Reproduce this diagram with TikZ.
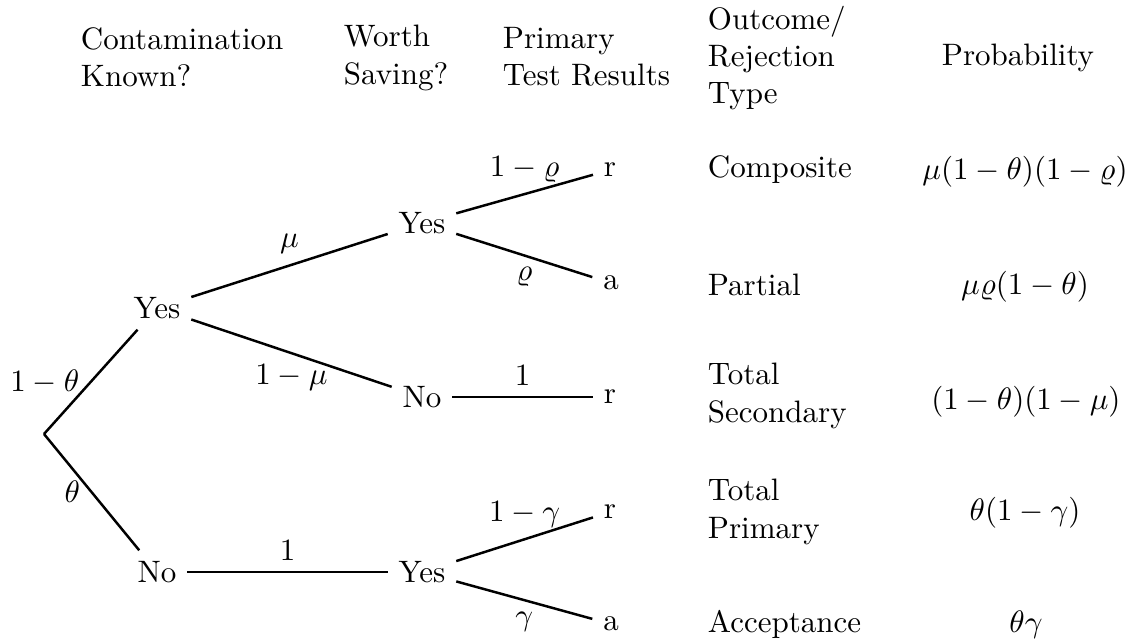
\documentclass[tikz,border=0pt]{standalone}
\usepackage{amsmath,amssymb}
\usepackage{tikz}
\tikzset{
  choice/.style={inner sep=3.33pt},
  branch/.style={thick,black},
  hdr/.style={align=left,anchor=west},
  otype/.style={align=left,anchor=west},
  prob/.style={inner sep=3.33pt}
}

\begin{document}
\begin{tikzpicture}[x=0.3226pt,y=-0.3226pt]
    \useasboundingbox (0,0) rectangle (1137,644);
    % column headings
    \node[hdr] (hknown) at (70,57) {Contamination\\Known?};
    \node[hdr] (hsave) at (333,58) {Worth\\Saving?};
    \node[hdr] (htest) at (492,57) {Primary\\Test Results};
    \node[hdr] (hout) at (697,58) {Outcome/\\Rejection\\Type};
    \node (hprob) at (1018,58) {Probability};
    % tree
    \coordinate (root) at (44,434);
    \node[choice] (y1) at (157,308) {Yes}; \node[choice] (n1) at (157,572) {No};
    \node[choice] (y2) at (422,223) {Yes}; \node[choice] (n2) at (422,397) {No};
    \node[choice] (y3) at (422,572) {Yes};
    \node[choice] (r1) at (610,170) {r}; \node[choice] (a1) at (611,283) {a};
    \node[choice] (r2) at (610,397) {r};
    \node[choice] (r3) at (610,512) {r}; \node[choice] (a3) at (611,624) {a};
    \draw[branch] (root) -- node[left] {$1-\theta$} (y1);
    \draw[branch] (root) -- node[left] {$\theta$} (n1);
    \draw[branch] (y1) -- node[above] {$\mu$} (y2);
    \draw[branch] (y1) -- node[below] {$1-\mu$} (n2);
    \draw[branch] (n1) -- node[above] {$1$} (y3);
    \draw[branch] (y2) -- node[above] {$1-\varrho$} (r1);
    \draw[branch] (y2) -- node[below] {$\varrho$} (a1);
    \draw[branch] (n2) -- node[above] {$1$} (r2);
    \draw[branch] (y3) -- node[above] {$1-\gamma$} (r3);
    \draw[branch] (y3) -- node[below] {$\gamma$} (a3);
    % outcomes and probabilities
    \node[otype] (o1) at (697,170) {Composite};
    \node[otype] (o2) at (697,285) {Partial};
    \node[otype] (o3) at (697,396) {Total\\Secondary};
    \node[otype] (o4) at (697,512) {Total\\Primary};
    \node[otype] (o5) at (697,624) {Acceptance};
    \node[prob] (p1) at (1025,172) {$\mu(1-\theta)(1-\varrho)$};
    \node[prob] (p2) at (1025,287) {$\mu\varrho(1-\theta)$};
    \node[prob] (p3) at (1026,402) {$(1-\theta)(1-\mu)$};
    \node[prob] (p4) at (1025,513) {$\theta(1-\gamma)$};
    \node[prob] (p5) at (1026,625) {$\theta\gamma$};
\end{tikzpicture}
\end{document}
